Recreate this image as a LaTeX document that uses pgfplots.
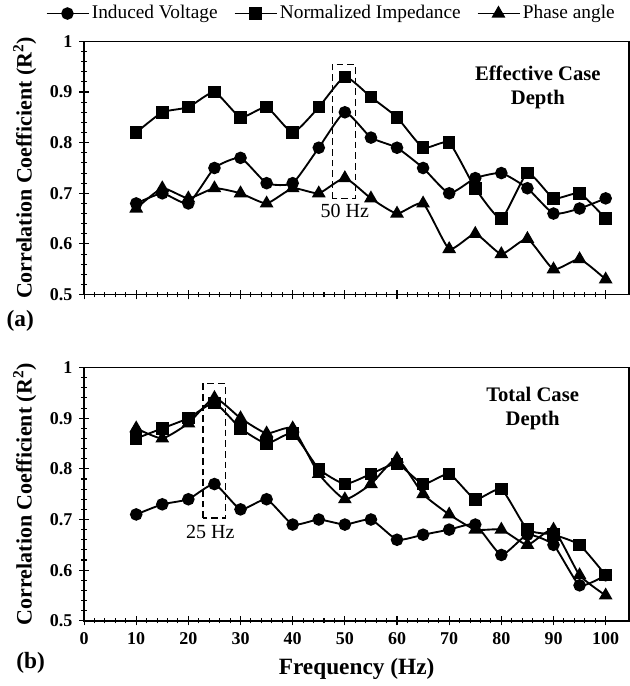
\documentclass[border=0pt]{standalone}
\usepackage{fontspec}
\setmainfont{Liberation Serif}
\usepackage{pgfplots}
\pgfplotsset{compat=1.18}

\tikzset{hzbox/.style={line width=1pt, dash pattern=on 5pt off 3pt}}
\pgfplotsset{
  panel/.style={
    scale only axis, width=409pt, height=190pt, clip=false,
    xmin=0, xmax=104.5, ymin=0.5, ymax=1,
    xtick={0,10,20,30,40,50,60,70,80,90,100},
    ytick={0.5,0.6,0.7,0.8,0.9,1},
    minor x tick num=4, minor y tick num=4,
    xtick pos=bottom, ytick pos=left, tick align=center,
    major tick length=7pt, minor tick length=4pt,
    axis line style={line width=1.1pt},
    every tick/.style={black, line width=0.8pt},
    /pgf/number format/assume math mode=true,
    ticklabel style={font=\fontsize{13.5}{16}\selectfont\bfseries},
    yticklabel style={/pgf/number format/fixed, /pgf/number format/precision=1},
    ylabel={Correlation Coefficient (R\textsuperscript{2})},
    ylabel style={font=\fontsize{16.5}{19}\selectfont\bfseries},
    every axis plot/.append style={black, line width=1.4pt, smooth, tension=0.3},
  },
  volt/.style={mark=*, mark size=4pt, mark options={solid, fill=black}},
  imp/.style={mark=square*, mark size=4pt, mark options={solid, fill=black}},
  phase/.style={mark=triangle*, mark size=4.6pt, mark options={solid, fill=black}},
}

\begin{document}
\fontsize{15}{18}\selectfont
\begin{tikzpicture}
% (a) effective case depth
\begin{axis}[panel,
    xticklabels={},
    legend columns=3,
    legend style={at={(0.454,1.11)}, anchor=center, draw=none, fill=none,
      font=\fontsize{14.5}{17}\selectfont,
      /tikz/every even column/.append style={column sep=10pt}},
    legend cell align=left,
    legend image code/.code={\draw[mark repeat=2, mark phase=2]
      plot coordinates {(0cm,0cm) (0.55cm,0cm) (1.1cm,0cm)};},
]
\addplot[volt] coordinates {
 (10,0.68) (15,0.70) (20,0.68) (25,0.75) (30,0.77) (35,0.72) (40,0.72)
 (45,0.79) (50,0.86) (55,0.81) (60,0.79) (65,0.75) (70,0.70) (75,0.73)
 (80,0.74) (85,0.71) (90,0.66) (95,0.67) (100,0.69)
};
\addlegendentry{Induced Voltage}
\addplot[imp] coordinates {
 (10,0.82) (15,0.86) (20,0.87) (25,0.90) (30,0.85) (35,0.87) (40,0.82)
 (45,0.87) (50,0.93) (55,0.89) (60,0.85) (65,0.79) (70,0.80) (75,0.71)
 (80,0.65) (85,0.74) (90,0.69) (95,0.70) (100,0.65)
};
\addlegendentry{Normalized Impedance}
\addplot[phase] coordinates {
 (10,0.67) (15,0.71) (20,0.69) (25,0.71) (30,0.70) (35,0.68) (40,0.71)
 (45,0.70) (50,0.73) (55,0.69) (60,0.66) (65,0.68) (70,0.59) (75,0.62)
 (80,0.58) (85,0.61) (90,0.55) (95,0.57) (100,0.53)
};
\addlegendentry{Phase angle}
\draw[hzbox] (axis cs:47.6,0.69) rectangle (axis cs:52,0.955);
\node at (axis cs:50,0.665) {50 Hz};
\node[font=\fontsize{15.5}{18}\selectfont\bfseries, align=center] at (axis cs:87,0.91) {Effective Case\\Depth};
\node[font=\fontsize{17.5}{20}\selectfont\bfseries] at (rel axis cs:-0.117,-0.103) {(a)};
\end{axis}

% (b) total case depth
\begin{axis}[panel, at={(0pt,-244.75pt)},
    xlabel={Frequency (Hz)},
    xlabel style={font=\fontsize{17.5}{20}\selectfont\bfseries},
]
\addplot[volt] coordinates {
 (10,0.71) (15,0.73) (20,0.74) (25,0.77) (30,0.72) (35,0.74) (40,0.69)
 (45,0.70) (50,0.69) (55,0.70) (60,0.66) (65,0.67) (70,0.68) (75,0.69)
 (80,0.63) (85,0.67) (90,0.65) (95,0.57) (100,0.59)
};
\addplot[imp] coordinates {
 (10,0.86) (15,0.88) (20,0.90) (25,0.93) (30,0.88) (35,0.85) (40,0.87)
 (45,0.80) (50,0.77) (55,0.79) (60,0.81) (65,0.77) (70,0.79) (75,0.74)
 (80,0.76) (85,0.68) (90,0.67) (95,0.65) (100,0.59)
};
\addplot[phase] coordinates {
 (10,0.88) (15,0.86) (20,0.89) (25,0.94) (30,0.90) (35,0.87) (40,0.88)
 (45,0.79) (50,0.74) (55,0.77) (60,0.82) (65,0.75) (70,0.71) (75,0.68)
 (80,0.68) (85,0.65) (90,0.68) (95,0.59) (100,0.55)
};
\draw[hzbox] (axis cs:22.8,0.703) rectangle (axis cs:27.1,0.968);
\node at (axis cs:24.2,0.675) {25 Hz};
\node[font=\fontsize{15.5}{18}\selectfont\bfseries, align=center] at (axis cs:86,0.92) {Total Case\\Depth};
\node[font=\fontsize{17.5}{20}\selectfont\bfseries] at (rel axis cs:-0.098,-0.165) {(b)};
\end{axis}
\end{tikzpicture}
\end{document}
